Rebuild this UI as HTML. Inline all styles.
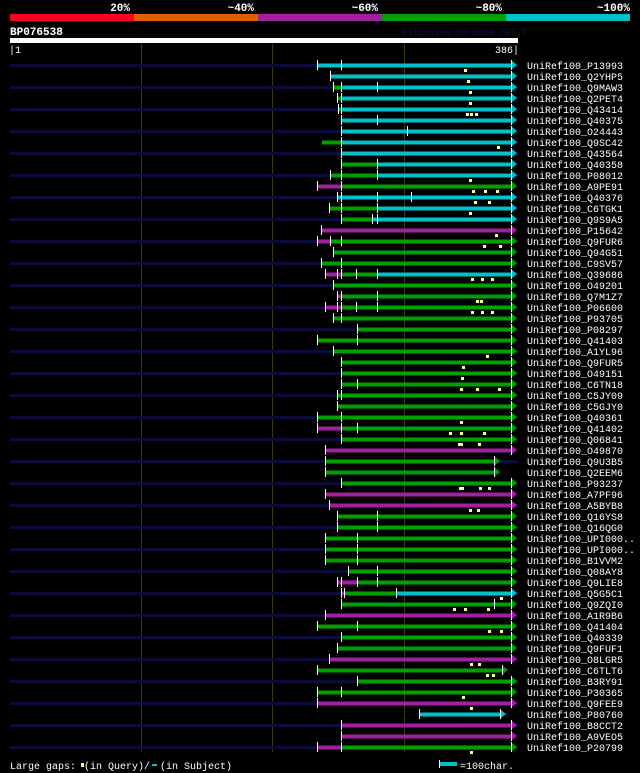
<!DOCTYPE html>
<html><head><meta charset="utf-8"><style>
html,body{margin:0;padding:0;background:#000;width:640px;height:773px;overflow:hidden}
svg{display:block}
text{font-family:"Liberation Mono","DejaVu Sans Mono",monospace;fill:#fff;font-size:10px}
.n{fill:#0b0b3c}.C{fill:#00c0c8}.G{fill:#00a000}.M{fill:#a020a0}.w{fill:#fff}
</style></head><body>
<svg width="640" height="773" xmlns="http://www.w3.org/2000/svg">
<rect width="640" height="773" fill="#000"/>
<g font-weight="bold" style="font-size:11px">
<text x="130" y="11" text-anchor="end" style="font-size:11px;font-weight:bold">20%</text>
<text x="254" y="11" text-anchor="end" style="font-size:11px;font-weight:bold">~40%</text>
<text x="378" y="11" text-anchor="end" style="font-size:11px;font-weight:bold">~60%</text>
<text x="502" y="11" text-anchor="end" style="font-size:11px;font-weight:bold">~80%</text>
<text x="630" y="11" text-anchor="end" style="font-size:11px;font-weight:bold">~100%</text>
</g>
<rect x="10" y="14" width="124" height="7" fill="#ff0020"/>
<rect x="134" y="14" width="124" height="7" fill="#e06000"/>
<rect x="258" y="14" width="124" height="7" fill="#a020a0"/>
<rect x="382" y="14" width="124" height="7" fill="#00a000"/>
<rect x="506" y="14" width="124" height="7" fill="#00c0c8"/>
<text x="10" y="35" style="font-size:11px;font-weight:bold">BP076538</text>
<text x="402" y="35" style="fill:#101048;font-size:9px">AlignView.pm Beta rel.7</text>
<rect x="10" y="38" width="508" height="5" fill="#fff"/>
<text x="9" y="53">|1</text>
<text x="519" y="53" text-anchor="end">386|</text>
<rect x="141" y="44" width="1" height="708" fill="#3a3a10"/>
<rect x="272" y="44" width="1" height="708" fill="#3a3a10"/>
<rect x="404" y="44" width="1" height="708" fill="#3a3a10"/>

<g id="rows">
<g transform="translate(0,65)"><rect class="n" x="10" y="-1" width="508" height="3"/><rect class="C" x="317" y="-1.5" width="194" height="4"/><rect class="w" x="317" y="-5" width="1" height="10"/><rect class="w" x="341" y="-5" width="1" height="10"/><rect class="w" x="511" y="-5" width="1" height="10"/><path class="C" d="M512,-4L517,0L512,4Z"/><text x="527" y="4">UniRef100_P13993</text></g>
<g transform="translate(0,76)"><rect class="C" x="330" y="-1.5" width="181" height="4"/><rect class="w" x="330" y="-5" width="1" height="10"/><rect class="w" x="511" y="-5" width="1" height="10"/><path class="C" d="M512,-4L517,0L512,4Z"/><text x="527" y="4">UniRef100_Q2YHP5</text></g>
<g transform="translate(0,87)"><rect class="n" x="10" y="-1" width="508" height="3"/><rect class="G" x="333" y="-1.5" width="8" height="4"/><rect class="C" x="341" y="-1.5" width="170" height="4"/><rect class="w" x="333" y="-5" width="1" height="10"/><rect class="w" x="341" y="-5" width="1" height="10"/><rect class="w" x="377" y="-5" width="1" height="10"/><rect class="w" x="511" y="-5" width="1" height="10"/><path class="C" d="M512,-4L517,0L512,4Z"/><text x="527" y="4">UniRef100_Q9MAW3</text></g>
<g transform="translate(0,98)"><rect class="G" x="338" y="-1.5" width="3" height="4"/><rect class="C" x="341" y="-1.5" width="170" height="4"/><rect class="w" x="337" y="-5" width="1" height="10"/><rect class="w" x="341" y="-5" width="1" height="10"/><rect class="w" x="511" y="-5" width="1" height="10"/><path class="C" d="M512,-4L517,0L512,4Z"/><text x="527" y="4">UniRef100_Q2PET4</text></g>
<g transform="translate(0,109)"><rect class="n" x="10" y="-1" width="508" height="3"/><rect class="G" x="338" y="-1.5" width="3" height="4"/><rect class="C" x="341" y="-1.5" width="170" height="4"/><rect class="w" x="338" y="-5" width="1" height="10"/><rect class="w" x="341" y="-5" width="1" height="10"/><rect class="w" x="511" y="-5" width="1" height="10"/><path class="C" d="M512,-4L517,0L512,4Z"/><text x="527" y="4">UniRef100_Q43414</text></g>
<g transform="translate(0,120)"><rect class="C" x="341" y="-1.5" width="170" height="4"/><rect class="w" x="341" y="-5" width="1" height="10"/><rect class="w" x="377" y="-5" width="1" height="10"/><rect class="w" x="511" y="-5" width="1" height="10"/><path class="C" d="M512,-4L517,0L512,4Z"/><text x="527" y="4">UniRef100_Q40375</text></g>
<g transform="translate(0,131)"><rect class="n" x="10" y="-1" width="508" height="3"/><rect class="C" x="341" y="-1.5" width="170" height="4"/><rect class="w" x="341" y="-5" width="1" height="10"/><rect class="w" x="407" y="-5" width="1" height="10"/><rect class="w" x="511" y="-5" width="1" height="10"/><path class="C" d="M512,-4L517,0L512,4Z"/><text x="527" y="4">UniRef100_O24443</text></g>
<g transform="translate(0,142)"><rect class="G" x="322" y="-1.5" width="19" height="4"/><rect class="C" x="341" y="-1.5" width="170" height="4"/><rect class="w" x="341" y="-5" width="1" height="10"/><rect class="w" x="511" y="-5" width="1" height="10"/><path class="C" d="M512,-4L517,0L512,4Z"/><text x="527" y="4">UniRef100_Q9SC42</text></g>
<g transform="translate(0,153)"><rect class="n" x="10" y="-1" width="508" height="3"/><rect class="C" x="341" y="-1.5" width="170" height="4"/><rect class="w" x="341" y="-5" width="1" height="10"/><rect class="w" x="511" y="-5" width="1" height="10"/><path class="C" d="M512,-4L517,0L512,4Z"/><text x="527" y="4">UniRef100_Q43564</text></g>
<g transform="translate(0,164)"><rect class="G" x="341" y="-1.5" width="36" height="4"/><rect class="C" x="377" y="-1.5" width="134" height="4"/><rect class="w" x="341" y="-5" width="1" height="10"/><rect class="w" x="377" y="-5" width="1" height="10"/><rect class="w" x="511" y="-5" width="1" height="10"/><path class="C" d="M512,-4L517,0L512,4Z"/><text x="527" y="4">UniRef100_Q40358</text></g>
<g transform="translate(0,175)"><rect class="n" x="10" y="-1" width="508" height="3"/><rect class="G" x="330" y="-1.5" width="47" height="4"/><rect class="C" x="377" y="-1.5" width="134" height="4"/><rect class="w" x="330" y="-5" width="1" height="10"/><rect class="w" x="341" y="-5" width="1" height="10"/><rect class="w" x="377" y="-5" width="1" height="10"/><rect class="w" x="511" y="-5" width="1" height="10"/><path class="C" d="M512,-4L517,0L512,4Z"/><text x="527" y="4">UniRef100_P08012</text></g>
<g transform="translate(0,186)"><rect class="M" x="317" y="-1.5" width="24" height="4"/><rect class="G" x="341" y="-1.5" width="170" height="4"/><rect class="w" x="317" y="-5" width="1" height="10"/><rect class="w" x="341" y="-5" width="1" height="10"/><rect class="w" x="511" y="-5" width="1" height="10"/><path class="G" d="M512,-4L517,0L512,4Z"/><text x="527" y="4">UniRef100_A9PE91</text></g>
<g transform="translate(0,197)"><rect class="n" x="10" y="-1" width="508" height="3"/><rect class="C" x="337" y="-1.5" width="174" height="4"/><rect class="w" x="337" y="-5" width="1" height="10"/><rect class="w" x="341" y="-5" width="1" height="10"/><rect class="w" x="377" y="-5" width="1" height="10"/><rect class="w" x="411" y="-5" width="1" height="10"/><rect class="w" x="511" y="-5" width="1" height="10"/><path class="C" d="M512,-4L517,0L512,4Z"/><text x="527" y="4">UniRef100_Q40376</text></g>
<g transform="translate(0,208)"><rect class="G" x="329" y="-1.5" width="48" height="4"/><rect class="C" x="377" y="-1.5" width="134" height="4"/><rect class="w" x="329" y="-5" width="1" height="10"/><rect class="w" x="341" y="-5" width="1" height="10"/><rect class="w" x="377" y="-5" width="1" height="10"/><rect class="w" x="511" y="-5" width="1" height="10"/><path class="C" d="M512,-4L517,0L512,4Z"/><text x="527" y="4">UniRef100_C6TGK1</text></g>
<g transform="translate(0,219)"><rect class="n" x="10" y="-1" width="508" height="3"/><rect class="G" x="341" y="-1.5" width="31" height="4"/><rect class="C" x="372" y="-1.5" width="139" height="4"/><rect class="w" x="341" y="-5" width="1" height="10"/><rect class="w" x="372" y="-5" width="1" height="10"/><rect class="w" x="377" y="-5" width="1" height="10"/><rect class="w" x="511" y="-5" width="1" height="10"/><path class="C" d="M512,-4L517,0L512,4Z"/><text x="527" y="4">UniRef100_Q9S9A5</text></g>
<g transform="translate(0,230)"><rect class="M" x="321" y="-1.5" width="190" height="4"/><rect class="w" x="321" y="-5" width="1" height="10"/><rect class="w" x="511" y="-5" width="1" height="10"/><path class="M" d="M512,-4L517,0L512,4Z"/><text x="527" y="4">UniRef100_P15642</text></g>
<g transform="translate(0,241)"><rect class="n" x="10" y="-1" width="508" height="3"/><rect class="M" x="317" y="-1.5" width="13" height="4"/><rect class="G" x="330" y="-1.5" width="181" height="4"/><rect class="w" x="317" y="-5" width="1" height="10"/><rect class="w" x="330" y="-5" width="1" height="10"/><rect class="w" x="341" y="-5" width="1" height="10"/><rect class="w" x="511" y="-5" width="1" height="10"/><path class="G" d="M512,-4L517,0L512,4Z"/><text x="527" y="4">UniRef100_Q9FUR6</text></g>
<g transform="translate(0,252)"><rect class="G" x="333" y="-1.5" width="178" height="4"/><rect class="w" x="333" y="-5" width="1" height="10"/><rect class="w" x="511" y="-5" width="1" height="10"/><path class="G" d="M512,-4L517,0L512,4Z"/><text x="527" y="4">UniRef100_Q94G51</text></g>
<g transform="translate(0,263)"><rect class="n" x="10" y="-1" width="508" height="3"/><rect class="G" x="321" y="-1.5" width="190" height="4"/><rect class="w" x="321" y="-5" width="1" height="10"/><rect class="w" x="341" y="-5" width="1" height="10"/><rect class="w" x="511" y="-5" width="1" height="10"/><path class="G" d="M512,-4L517,0L512,4Z"/><text x="527" y="4">UniRef100_C9SV57</text></g>
<g transform="translate(0,274)"><rect class="M" x="325" y="-1.5" width="16" height="4"/><rect class="G" x="341" y="-1.5" width="36" height="4"/><rect class="C" x="377" y="-1.5" width="134" height="4"/><rect class="w" x="325" y="-5" width="1" height="10"/><rect class="w" x="337" y="-5" width="1" height="10"/><rect class="w" x="341" y="-5" width="1" height="10"/><rect class="w" x="356" y="-5" width="1" height="10"/><rect class="w" x="377" y="-5" width="1" height="10"/><rect class="w" x="511" y="-5" width="1" height="10"/><path class="C" d="M512,-4L517,0L512,4Z"/><text x="527" y="4">UniRef100_Q39686</text></g>
<g transform="translate(0,285)"><rect class="n" x="10" y="-1" width="508" height="3"/><rect class="G" x="333" y="-1.5" width="178" height="4"/><rect class="w" x="333" y="-5" width="1" height="10"/><rect class="w" x="511" y="-5" width="1" height="10"/><path class="G" d="M512,-4L517,0L512,4Z"/><text x="527" y="4">UniRef100_O49201</text></g>
<g transform="translate(0,296)"><rect class="M" x="337" y="-1.5" width="4" height="4"/><rect class="G" x="341" y="-1.5" width="170" height="4"/><rect class="w" x="337" y="-5" width="1" height="10"/><rect class="w" x="341" y="-5" width="1" height="10"/><rect class="w" x="377" y="-5" width="1" height="10"/><rect class="w" x="511" y="-5" width="1" height="10"/><path class="G" d="M512,-4L517,0L512,4Z"/><text x="527" y="4">UniRef100_Q7M1Z7</text></g>
<g transform="translate(0,307)"><rect class="n" x="10" y="-1" width="508" height="3"/><rect class="M" x="325" y="-1.5" width="16" height="4"/><rect class="G" x="341" y="-1.5" width="170" height="4"/><rect class="w" x="325" y="-5" width="1" height="10"/><rect class="w" x="337" y="-5" width="1" height="10"/><rect class="w" x="341" y="-5" width="1" height="10"/><rect class="w" x="356" y="-5" width="1" height="10"/><rect class="w" x="377" y="-5" width="1" height="10"/><rect class="w" x="511" y="-5" width="1" height="10"/><path class="G" d="M512,-4L517,0L512,4Z"/><text x="527" y="4">UniRef100_P06600</text></g>
<g transform="translate(0,318)"><rect class="G" x="333" y="-1.5" width="178" height="4"/><rect class="w" x="333" y="-5" width="1" height="10"/><rect class="w" x="341" y="-5" width="1" height="10"/><rect class="w" x="511" y="-5" width="1" height="10"/><path class="G" d="M512,-4L517,0L512,4Z"/><text x="527" y="4">UniRef100_P93705</text></g>
<g transform="translate(0,329)"><rect class="n" x="10" y="-1" width="508" height="3"/><rect class="G" x="357" y="-1.5" width="154" height="4"/><rect class="w" x="357" y="-5" width="1" height="10"/><rect class="w" x="511" y="-5" width="1" height="10"/><path class="G" d="M512,-4L517,0L512,4Z"/><text x="527" y="4">UniRef100_P08297</text></g>
<g transform="translate(0,340)"><rect class="G" x="317" y="-1.5" width="194" height="4"/><rect class="w" x="317" y="-5" width="1" height="10"/><rect class="w" x="357" y="-5" width="1" height="10"/><rect class="w" x="511" y="-5" width="1" height="10"/><path class="G" d="M512,-4L517,0L512,4Z"/><text x="527" y="4">UniRef100_Q41403</text></g>
<g transform="translate(0,351)"><rect class="n" x="10" y="-1" width="508" height="3"/><rect class="G" x="333" y="-1.5" width="178" height="4"/><rect class="w" x="333" y="-5" width="1" height="10"/><rect class="w" x="511" y="-5" width="1" height="10"/><path class="G" d="M512,-4L517,0L512,4Z"/><text x="527" y="4">UniRef100_A1YL96</text></g>
<g transform="translate(0,362)"><rect class="G" x="341" y="-1.5" width="170" height="4"/><rect class="w" x="341" y="-5" width="1" height="10"/><rect class="w" x="511" y="-5" width="1" height="10"/><path class="G" d="M512,-4L517,0L512,4Z"/><text x="527" y="4">UniRef100_Q9FUR5</text></g>
<g transform="translate(0,373)"><rect class="n" x="10" y="-1" width="508" height="3"/><rect class="G" x="341" y="-1.5" width="170" height="4"/><rect class="w" x="341" y="-5" width="1" height="10"/><rect class="w" x="511" y="-5" width="1" height="10"/><path class="G" d="M512,-4L517,0L512,4Z"/><text x="527" y="4">UniRef100_O49151</text></g>
<g transform="translate(0,384)"><rect class="G" x="341" y="-1.5" width="170" height="4"/><rect class="w" x="341" y="-5" width="1" height="10"/><rect class="w" x="357" y="-5" width="1" height="10"/><rect class="w" x="511" y="-5" width="1" height="10"/><path class="G" d="M512,-4L517,0L512,4Z"/><text x="527" y="4">UniRef100_C6TN18</text></g>
<g transform="translate(0,395)"><rect class="n" x="10" y="-1" width="508" height="3"/><rect class="G" x="337" y="-1.5" width="174" height="4"/><rect class="w" x="337" y="-5" width="1" height="10"/><rect class="w" x="341" y="-5" width="1" height="10"/><rect class="w" x="511" y="-5" width="1" height="10"/><path class="G" d="M512,-4L517,0L512,4Z"/><text x="527" y="4">UniRef100_C5JY09</text></g>
<g transform="translate(0,406)"><rect class="G" x="337" y="-1.5" width="174" height="4"/><rect class="w" x="337" y="-5" width="1" height="10"/><rect class="w" x="511" y="-5" width="1" height="10"/><path class="G" d="M512,-4L517,0L512,4Z"/><text x="527" y="4">UniRef100_C5GJY0</text></g>
<g transform="translate(0,417)"><rect class="n" x="10" y="-1" width="508" height="3"/><rect class="G" x="317" y="-1.5" width="194" height="4"/><rect class="w" x="317" y="-5" width="1" height="10"/><rect class="w" x="341" y="-5" width="1" height="10"/><rect class="w" x="511" y="-5" width="1" height="10"/><path class="G" d="M512,-4L517,0L512,4Z"/><text x="527" y="4">UniRef100_Q40361</text></g>
<g transform="translate(0,428)"><rect class="M" x="317" y="-1.5" width="24" height="4"/><rect class="G" x="341" y="-1.5" width="170" height="4"/><rect class="w" x="317" y="-5" width="1" height="10"/><rect class="w" x="341" y="-5" width="1" height="10"/><rect class="w" x="357" y="-5" width="1" height="10"/><rect class="w" x="511" y="-5" width="1" height="10"/><path class="G" d="M512,-4L517,0L512,4Z"/><text x="527" y="4">UniRef100_Q41402</text></g>
<g transform="translate(0,439)"><rect class="n" x="10" y="-1" width="508" height="3"/><rect class="G" x="341" y="-1.5" width="170" height="4"/><rect class="w" x="341" y="-5" width="1" height="10"/><rect class="w" x="511" y="-5" width="1" height="10"/><path class="G" d="M512,-4L517,0L512,4Z"/><text x="527" y="4">UniRef100_Q06841</text></g>
<g transform="translate(0,450)"><rect class="M" x="325" y="-1.5" width="186" height="4"/><rect class="w" x="325" y="-5" width="1" height="10"/><rect class="w" x="511" y="-5" width="1" height="10"/><path class="M" d="M512,-4L517,0L512,4Z"/><text x="527" y="4">UniRef100_O49870</text></g>
<g transform="translate(0,461)"><rect class="n" x="10" y="-1" width="508" height="3"/><rect class="G" x="325" y="-1.5" width="169" height="4"/><rect class="w" x="325" y="-5" width="1" height="10"/><rect class="w" x="494" y="-5" width="1" height="10"/><path class="G" d="M495,-4L500,0L495,4Z"/><text x="527" y="4">UniRef100_Q9U3B5</text></g>
<g transform="translate(0,472)"><rect class="G" x="325" y="-1.5" width="169" height="4"/><rect class="w" x="325" y="-5" width="1" height="10"/><rect class="w" x="494" y="-5" width="1" height="10"/><path class="G" d="M495,-4L500,0L495,4Z"/><text x="527" y="4">UniRef100_Q2EEM6</text></g>
<g transform="translate(0,483)"><rect class="n" x="10" y="-1" width="508" height="3"/><rect class="G" x="341" y="-1.5" width="170" height="4"/><rect class="w" x="341" y="-5" width="1" height="10"/><rect class="w" x="511" y="-5" width="1" height="10"/><path class="G" d="M512,-4L517,0L512,4Z"/><text x="527" y="4">UniRef100_P93237</text></g>
<g transform="translate(0,494)"><rect class="M" x="325" y="-1.5" width="186" height="4"/><rect class="w" x="325" y="-5" width="1" height="10"/><rect class="w" x="511" y="-5" width="1" height="10"/><path class="M" d="M512,-4L517,0L512,4Z"/><text x="527" y="4">UniRef100_A7PF96</text></g>
<g transform="translate(0,505)"><rect class="n" x="10" y="-1" width="508" height="3"/><rect class="M" x="329" y="-1.5" width="182" height="4"/><rect class="w" x="329" y="-5" width="1" height="10"/><rect class="w" x="511" y="-5" width="1" height="10"/><path class="M" d="M512,-4L517,0L512,4Z"/><text x="527" y="4">UniRef100_A5BYB8</text></g>
<g transform="translate(0,516)"><rect class="G" x="337" y="-1.5" width="174" height="4"/><rect class="w" x="337" y="-5" width="1" height="10"/><rect class="w" x="377" y="-5" width="1" height="10"/><rect class="w" x="511" y="-5" width="1" height="10"/><path class="G" d="M512,-4L517,0L512,4Z"/><text x="527" y="4">UniRef100_Q16YS8</text></g>
<g transform="translate(0,527)"><rect class="n" x="10" y="-1" width="508" height="3"/><rect class="G" x="337" y="-1.5" width="174" height="4"/><rect class="w" x="337" y="-5" width="1" height="10"/><rect class="w" x="377" y="-5" width="1" height="10"/><rect class="w" x="511" y="-5" width="1" height="10"/><path class="G" d="M512,-4L517,0L512,4Z"/><text x="527" y="4">UniRef100_Q16QG0</text></g>
<g transform="translate(0,538)"><rect class="G" x="325" y="-1.5" width="186" height="4"/><rect class="w" x="325" y="-5" width="1" height="10"/><rect class="w" x="357" y="-5" width="1" height="10"/><rect class="w" x="511" y="-5" width="1" height="10"/><path class="G" d="M512,-4L517,0L512,4Z"/><text x="527" y="4">UniRef100_UPI000..</text></g>
<g transform="translate(0,549)"><rect class="n" x="10" y="-1" width="508" height="3"/><rect class="G" x="325" y="-1.5" width="186" height="4"/><rect class="w" x="325" y="-5" width="1" height="10"/><rect class="w" x="357" y="-5" width="1" height="10"/><rect class="w" x="511" y="-5" width="1" height="10"/><path class="G" d="M512,-4L517,0L512,4Z"/><text x="527" y="4">UniRef100_UPI000..</text></g>
<g transform="translate(0,560)"><rect class="G" x="325" y="-1.5" width="186" height="4"/><rect class="w" x="325" y="-5" width="1" height="10"/><rect class="w" x="357" y="-5" width="1" height="10"/><rect class="w" x="511" y="-5" width="1" height="10"/><path class="G" d="M512,-4L517,0L512,4Z"/><text x="527" y="4">UniRef100_B1VVM2</text></g>
<g transform="translate(0,571)"><rect class="n" x="10" y="-1" width="508" height="3"/><rect class="G" x="348" y="-1.5" width="163" height="4"/><rect class="w" x="348" y="-5" width="1" height="10"/><rect class="w" x="377" y="-5" width="1" height="10"/><rect class="w" x="511" y="-5" width="1" height="10"/><path class="G" d="M512,-4L517,0L512,4Z"/><text x="527" y="4">UniRef100_Q08AY8</text></g>
<g transform="translate(0,582)"><rect class="M" x="337" y="-1.5" width="20" height="4"/><rect class="G" x="357" y="-1.5" width="154" height="4"/><rect class="w" x="337" y="-5" width="1" height="10"/><rect class="w" x="341" y="-5" width="1" height="10"/><rect class="w" x="357" y="-5" width="1" height="10"/><rect class="w" x="377" y="-5" width="1" height="10"/><rect class="w" x="511" y="-5" width="1" height="10"/><path class="G" d="M512,-4L517,0L512,4Z"/><text x="527" y="4">UniRef100_Q9LIE8</text></g>
<g transform="translate(0,593)"><rect class="n" x="10" y="-1" width="508" height="3"/><rect class="M" x="341" y="-1.5" width="3" height="4"/><rect class="G" x="344" y="-1.5" width="52" height="4"/><rect class="C" x="396" y="-1.5" width="115" height="4"/><rect class="w" x="341" y="-5" width="1" height="10"/><rect class="w" x="344" y="-5" width="1" height="10"/><rect class="w" x="396" y="-5" width="1" height="10"/><rect class="w" x="511" y="-5" width="1" height="10"/><path class="C" d="M512,-4L517,0L512,4Z"/><text x="527" y="4">UniRef100_Q5G5C1</text></g>
<g transform="translate(0,604)"><rect class="G" x="341" y="-1.5" width="170" height="4"/><rect class="w" x="341" y="-5" width="1" height="10"/><rect class="w" x="494" y="-5" width="1" height="10"/><rect class="w" x="511" y="-5" width="1" height="10"/><path class="G" d="M512,-4L517,0L512,4Z"/><text x="527" y="4">UniRef100_Q9ZQI0</text></g>
<g transform="translate(0,615)"><rect class="n" x="10" y="-1" width="508" height="3"/><rect class="M" x="325" y="-1.5" width="186" height="4"/><rect class="w" x="325" y="-5" width="1" height="10"/><rect class="w" x="511" y="-5" width="1" height="10"/><path class="M" d="M512,-4L517,0L512,4Z"/><text x="527" y="4">UniRef100_A1R9B6</text></g>
<g transform="translate(0,626)"><rect class="G" x="317" y="-1.5" width="194" height="4"/><rect class="w" x="317" y="-5" width="1" height="10"/><rect class="w" x="357" y="-5" width="1" height="10"/><rect class="w" x="511" y="-5" width="1" height="10"/><path class="G" d="M512,-4L517,0L512,4Z"/><text x="527" y="4">UniRef100_Q41404</text></g>
<g transform="translate(0,637)"><rect class="n" x="10" y="-1" width="508" height="3"/><rect class="G" x="341" y="-1.5" width="170" height="4"/><rect class="w" x="341" y="-5" width="1" height="10"/><rect class="w" x="511" y="-5" width="1" height="10"/><path class="G" d="M512,-4L517,0L512,4Z"/><text x="527" y="4">UniRef100_Q40339</text></g>
<g transform="translate(0,648)"><rect class="G" x="337" y="-1.5" width="174" height="4"/><rect class="w" x="337" y="-5" width="1" height="10"/><rect class="w" x="511" y="-5" width="1" height="10"/><path class="G" d="M512,-4L517,0L512,4Z"/><text x="527" y="4">UniRef100_Q9FUF1</text></g>
<g transform="translate(0,659)"><rect class="n" x="10" y="-1" width="508" height="3"/><rect class="M" x="329" y="-1.5" width="182" height="4"/><rect class="w" x="329" y="-5" width="1" height="10"/><rect class="w" x="511" y="-5" width="1" height="10"/><path class="M" d="M512,-4L517,0L512,4Z"/><text x="527" y="4">UniRef100_O8LGR5</text></g>
<g transform="translate(0,670)"><rect class="G" x="317" y="-1.5" width="186" height="4"/><rect class="w" x="317" y="-5" width="1" height="10"/><rect class="w" x="502" y="-5" width="1" height="10"/><path class="G" d="M503,-4L508,0L503,4Z"/><text x="527" y="4">UniRef100_C6TLT6</text></g>
<g transform="translate(0,681)"><rect class="n" x="10" y="-1" width="508" height="3"/><rect class="G" x="357" y="-1.5" width="154" height="4"/><rect class="w" x="357" y="-5" width="1" height="10"/><rect class="w" x="511" y="-5" width="1" height="10"/><path class="G" d="M512,-4L517,0L512,4Z"/><text x="527" y="4">UniRef100_B3RY91</text></g>
<g transform="translate(0,692)"><rect class="G" x="317" y="-1.5" width="194" height="4"/><rect class="w" x="317" y="-5" width="1" height="10"/><rect class="w" x="341" y="-5" width="1" height="10"/><rect class="w" x="511" y="-5" width="1" height="10"/><path class="G" d="M512,-4L517,0L512,4Z"/><text x="527" y="4">UniRef100_P30365</text></g>
<g transform="translate(0,703)"><rect class="n" x="10" y="-1" width="508" height="3"/><rect class="M" x="317" y="-1.5" width="194" height="4"/><rect class="w" x="317" y="-5" width="1" height="10"/><rect class="w" x="511" y="-5" width="1" height="10"/><path class="M" d="M512,-4L517,0L512,4Z"/><text x="527" y="4">UniRef100_Q9FEE9</text></g>
<g transform="translate(0,714)"><rect class="C" x="419" y="-1.5" width="81" height="4"/><rect class="w" x="419" y="-5" width="1" height="10"/><rect class="w" x="500" y="-5" width="1" height="10"/><path class="C" d="M501,-4L506,0L501,4Z"/><text x="527" y="4">UniRef100_P80760</text></g>
<g transform="translate(0,725)"><rect class="n" x="10" y="-1" width="508" height="3"/><rect class="M" x="341" y="-1.5" width="170" height="4"/><rect class="w" x="341" y="-5" width="1" height="10"/><rect class="w" x="511" y="-5" width="1" height="10"/><path class="M" d="M512,-4L517,0L512,4Z"/><text x="527" y="4">UniRef100_B8CCT2</text></g>
<g transform="translate(0,736)"><rect class="M" x="341" y="-1.5" width="170" height="4"/><rect class="w" x="341" y="-5" width="1" height="10"/><rect class="w" x="511" y="-5" width="1" height="10"/><path class="M" d="M512,-4L517,0L512,4Z"/><text x="527" y="4">UniRef100_A9VEO5</text></g>
<g transform="translate(0,747)"><rect class="n" x="10" y="-1" width="508" height="3"/><rect class="M" x="317" y="-1.5" width="24" height="4"/><rect class="G" x="341" y="-1.5" width="170" height="4"/><rect class="w" x="317" y="-5" width="1" height="10"/><rect class="w" x="341" y="-5" width="1" height="10"/><rect class="w" x="511" y="-5" width="1" height="10"/><path class="G" d="M512,-4L517,0L512,4Z"/><text x="527" y="4">UniRef100_P20799</text></g>
</g>

<g fill="#ffff80">
<rect x="464" y="69" width="3" height="3"/><rect x="467" y="80" width="3" height="3"/><rect x="469" y="91" width="3" height="3"/><rect x="469" y="102" width="3" height="3"/><rect x="466" y="113" width="3" height="3"/><rect x="470" y="113" width="3" height="3"/><rect x="475" y="113" width="3" height="3"/><rect x="497" y="146" width="3" height="3"/><rect x="469" y="179" width="3" height="3"/><rect x="472" y="190" width="3" height="3"/><rect x="484" y="190" width="3" height="3"/><rect x="496" y="190" width="3" height="3"/><rect x="474" y="201" width="3" height="3"/><rect x="488" y="201" width="3" height="3"/><rect x="469" y="212" width="3" height="3"/><rect x="495" y="234" width="3" height="3"/><rect x="483" y="245" width="3" height="3"/><rect x="499" y="245" width="3" height="3"/><rect x="471" y="278" width="3" height="3"/><rect x="481" y="278" width="3" height="3"/><rect x="491" y="278" width="3" height="3"/><rect x="476" y="300" width="3" height="3"/><rect x="480" y="300" width="3" height="3"/><rect x="471" y="311" width="3" height="3"/><rect x="481" y="311" width="3" height="3"/><rect x="491" y="311" width="3" height="3"/><rect x="486" y="355" width="3" height="3"/><rect x="462" y="366" width="3" height="3"/><rect x="461" y="377" width="3" height="3"/><rect x="460" y="388" width="3" height="3"/><rect x="476" y="388" width="3" height="3"/><rect x="498" y="388" width="3" height="3"/><rect x="460" y="421" width="3" height="3"/><rect x="449" y="432" width="3" height="3"/><rect x="460" y="432" width="3" height="3"/><rect x="483" y="432" width="3" height="3"/><rect x="458" y="443" width="5" height="3"/><rect x="478" y="443" width="3" height="3"/><rect x="459" y="487" width="5" height="3"/><rect x="479" y="487" width="3" height="3"/><rect x="488" y="487" width="3" height="3"/><rect x="469" y="509" width="3" height="3"/><rect x="477" y="509" width="3" height="3"/><rect x="500" y="597" width="3" height="3"/><rect x="453" y="608" width="3" height="3"/><rect x="464" y="608" width="3" height="3"/><rect x="487" y="608" width="3" height="3"/><rect x="488" y="630" width="3" height="3"/><rect x="500" y="630" width="3" height="3"/><rect x="470" y="663" width="3" height="3"/><rect x="478" y="663" width="3" height="3"/><rect x="486" y="674" width="3" height="3"/><rect x="492" y="674" width="3" height="3"/><rect x="462" y="696" width="3" height="3"/><rect x="470" y="707" width="3" height="3"/><rect x="470" y="751" width="3" height="3"/>
</g>

<text x="10" y="769">Large gaps:</text>
<rect x="81" y="763" width="3" height="4" fill="#ffff80"/>
<text x="84" y="769">(in Query)/</text>
<rect x="152" y="764" width="5" height="2" fill="#00c0c8"/>
<text x="160" y="769">(in Subject)</text>
<rect x="439" y="760" width="1" height="8" fill="#fff"/>
<rect x="440" y="762" width="17" height="4" fill="#00c0c8"/>
<text x="460" y="769">=100char.</text>
</svg>
</body></html>
